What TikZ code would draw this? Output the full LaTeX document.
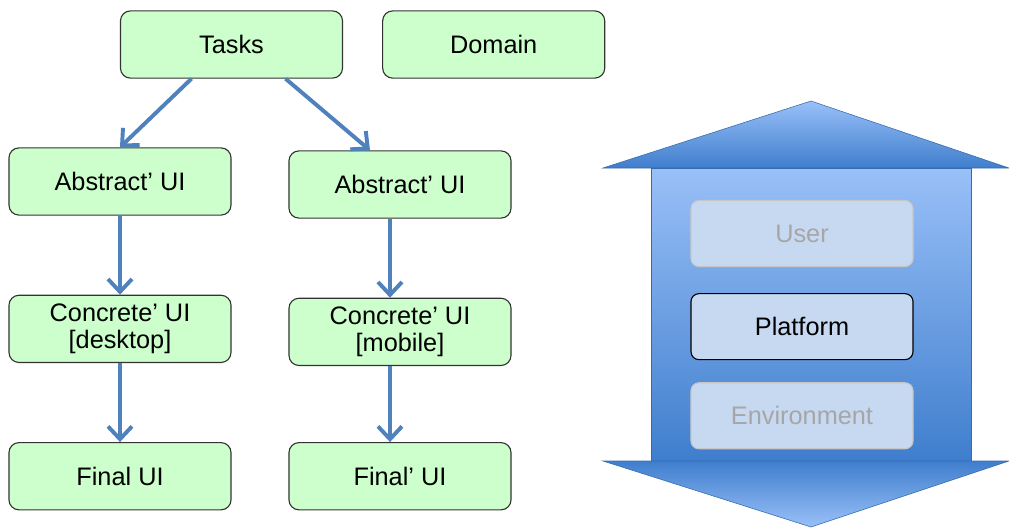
\documentclass[tikz,border=0pt]{standalone}
\usepackage{fontspec}
\setmainfont{Liberation Sans}
\usetikzlibrary{arrows.meta,positioning}
\definecolor{boxgreen}{HTML}{CCFFCC}
\definecolor{flowblue}{HTML}{4F81BD}
\definecolor{layerfill}{HTML}{C6D9F1}
\definecolor{arrowlight}{HTML}{99C0F8}
\definecolor{arrowdark}{HTML}{3F7ECD}

\begin{document}
\begin{tikzpicture}[x=0.025cm,y=-0.025cm,node distance=1.975cm,>={Straight Barb[length=0.32cm,width=0.6cm]},
  every node/.style={font=\fontsize{18}{19.5}\selectfont},
  model/.style={draw=black!80,line width=0.8pt,rounded corners=0.25cm,fill=boxgreen,minimum width=5.55cm,minimum height=1.68cm,align=center,inner sep=2pt},
  layer/.style={rounded corners=0.2cm,fill=layerfill,minimum width=5.55cm,minimum height=1.65cm},
  faded/.style={layer,draw=black!22,line width=0.8pt,text=black!35},
  flow/.style={->,draw=flowblue,line width=2.8pt}]
\useasboundingbox (0,0) rectangle (1009,528);

% two-way arrow behind the context layers
\shadedraw[draw=arrowdark!85!black,line width=0.4pt,top color=arrowlight,bottom color=arrowdark] (651,168) rectangle (971,461);
\shadedraw[draw=arrowdark!85!black,line width=0.4pt,top color=arrowlight,bottom color=arrowdark] (603,168) -- (811,101) -- (1009,168) -- cycle;
\shadedraw[draw=arrowdark!85!black,line width=0.4pt,top color=arrowdark,bottom color=arrowlight] (603,461) -- (1009,461) -- (811,527) -- cycle;

\node[faded] (user) at (802,233.5) {User};
\node[layer,draw=black,line width=0.8pt,below=0.65cm of user] (platform) {Platform};
\node[faded,below=0.55cm of platform] (environment) {Environment};

% models
\node[model] (tasks) at (231.5,44.5) {Tasks};
\node[model,right=0.975cm of tasks] (domain) {Domain};
\node[model] (absdesk) at (120,181.5) {Abstract’ UI};
\node[model,below=of absdesk] (concdesk) {Concrete’ UI\\{[desktop]}};
\node[model,below=of concdesk] (finaldesk) {Final UI};
\node[model] (absmob) at (400,184.5) {Abstract’ UI};
\node[model,below=of absmob] (concmob) {Concrete’ UI\\{[mobile]}};
\node[model,below=1.9cm of concmob] (finalmob) {Final’ UI};

\draw[flow] ([xshift=-1cm]tasks.south) -- (absdesk.north);
\draw[flow] ([xshift=1.35cm]tasks.south) -- ([xshift=-0.75cm]absmob.north);
\draw[flow] (absdesk) -- (concdesk);
\draw[flow] (concdesk) -- (finaldesk);
\draw[flow] ([xshift=-0.25cm]absmob.south) -- ([xshift=-0.25cm]concmob.north);
\draw[flow] ([xshift=-0.25cm]concmob.south) -- ([xshift=-0.25cm]finalmob.north);
\end{tikzpicture}
\end{document}
